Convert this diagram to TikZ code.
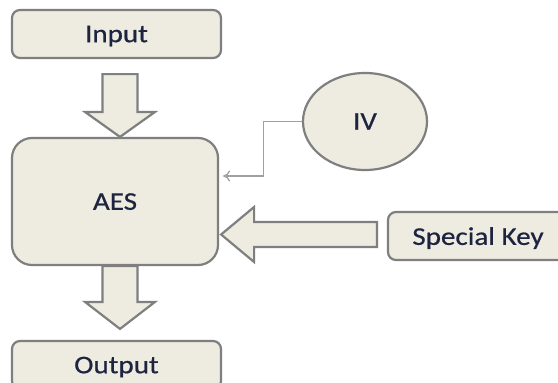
\documentclass[tikz,border=0pt]{standalone}
\usepackage{fontspec}
\setmainfont{Carlito}[FakeStretch=1.14,FakeBold=0.6]
\usetikzlibrary{calc,shapes.geometric,arrows.meta}
\definecolor{boxfill}{HTML}{EEECE1}
\definecolor{boxline}{HTML}{7F7F7F}
\definecolor{txt}{HTML}{1C2440}
\definecolor{thin}{HTML}{A0A0A0}
\begin{document}
\begin{tikzpicture}[x=1pt,y=-1pt,
  box/.style={draw=boxline,fill=boxfill,line width=2.2pt,rounded corners=8pt,inner sep=0pt,text=txt,text depth=0pt,font=\fontsize{25.5}{28}\selectfont},
  blk/.style={draw=boxline,fill=boxfill,line width=2.2pt,line join=miter},
  thinarrow/.style={draw=thin,line width=1.2pt,-{To[length=7pt,width=11pt]}}]
\fill[white] (0,0) rectangle (558,383);
\clip (0,0) rectangle (558,383);
\useasboundingbox (0,0) rectangle (558,383);
\node[box,minimum width=209pt,minimum height=48pt] (in) at (116.5,34) {Input};
\node[box,rounded corners=20pt,minimum width=206pt,minimum height=127pt] (aes) at (115,201.5) {AES};
\node[box,minimum width=209pt,minimum height=48pt] (out) at (116.5,365) {Output};
\node[box,minimum width=180pt,minimum height=48pt] (sk) at (478,236) {Special Key};
\node[box,ellipse,minimum width=124pt,minimum height=97pt] (iv) at (365,121.5) {IV};
% down arrow 1
\coordinate (a1top) at ($(in.south)+(3.5,15)$);
\coordinate (a1tip) at ($(aes.north)+(5,0)$);
\draw[blk] ($(a1top)+(-17.5,0)$) -- ($(a1top)+(17.5,0)$) -- ($(a1tip)+(17.5,-25)$) -- ($(a1tip)+(35,-25)$) -- (a1tip) -- ($(a1tip)+(-35,-25)$) -- ($(a1tip)+(-17.5,-25)$) -- cycle;
% down arrow 2
\coordinate (a2top) at ($(aes.south)+(5,0)$);
\coordinate (a2tip) at ($(out.north)+(3.5,-11)$);
\draw[blk] ($(a2top)+(-17.5,0)$) -- ($(a2top)+(17.5,0)$) -- ($(a2tip)+(17.5,-27)$) -- ($(a2tip)+(35,-27)$) -- (a2tip) -- ($(a2tip)+(-35,-27)$) -- ($(a2tip)+(-17.5,-27)$) -- cycle;
% left arrow
\coordinate (a3tail) at ($(sk.west)+(-10,-1.5)$);
\coordinate (a3tip) at ($(aes.east)+(2,33)$);
\draw[blk] ($(a3tail)+(0,-12.5)$) -- ($(a3tail)+(0,12.5)$) -- ($(a3tip)+(33,12.5)$) -- ($(a3tip)+(33,27.5)$) -- (a3tip) -- ($(a3tip)+(33,-27.5)$) -- ($(a3tip)+(33,-12.5)$) -- cycle;
% IV connector
\coordinate (ivend) at ($(aes.east)+(4,-25.5)$);
\draw[thinarrow] (iv.west) -| ($(ivend)+(40,0)$) -- (ivend);
\end{tikzpicture}
\end{document}
